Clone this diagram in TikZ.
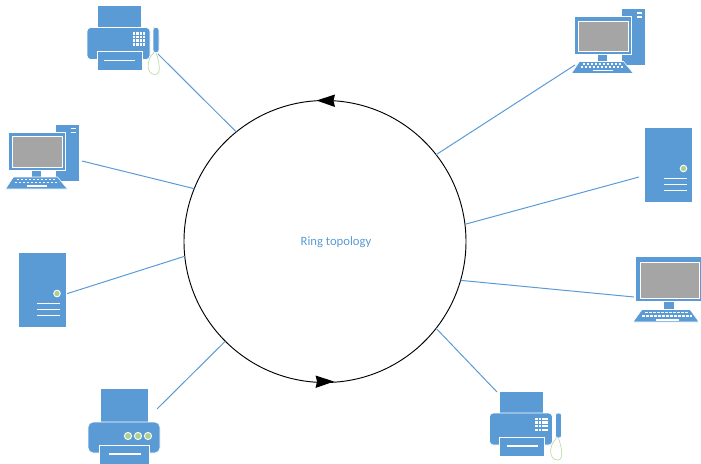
\documentclass[tikz,border=0pt]{standalone}
\usepackage{fontspec}
\setmainfont{Carlito}
\definecolor{icon}{HTML}{5B9BD5}
\definecolor{leaf}{HTML}{A9D18E}
\definecolor{screen}{HTML}{A5A5A5}
\tikzset{
  part/.style={fill=icon,draw=white,line width=0.4pt},
  link/.style={draw=icon,line width=0.75pt},
  slot/.style={draw=white,line width=1pt},
  cord/.style={draw=leaf!80,line width=0.5pt},
  faxicon/.pic={
    \draw[cord] (66,22) .. controls (74,24) and (74,45) .. (66,47);
    \draw[cord] (67,47) .. controls (58,56) and (60,69) .. (68,69) .. controls (75,69) and (72,56) .. (69,47);
    \path[part] (10,0) rectangle (54,22);
    \path[part,rounded corners=3pt] (0,54) -- (0,22) -- (63,22) -- (63,54) -- cycle;
    \path[part] (10,46) rectangle (55,65);
    \draw[slot] (17,55) -- (48,55);
    \foreach \a in {47,50.5,54,57} \foreach \b in {28,31.5,35,39} \fill[white] (\a-1.1,\b-1.1) rectangle (\a+1.1,\b+1.1);
    \path[part,rounded corners=2pt] (66,22) rectangle (72,47);
  },
  deskicon/.pic={
    \path[part] (56,124) rectangle (80,181);
    \draw[slot] (71,128.5) -- (76,128.5) (71,132.5) -- (76,132.5);
    \path[part] (32,169) rectangle (42,177);
    \path[part] (9,132) rectangle (66,170);
    \path[fill=screen,draw=white,line width=0.7pt] (12.7,136.5) rectangle (63,167);
    \path[part] (14,177) -- (58,177) -- (68,189) -- (6,189) -- cycle;
    \foreach \r/\a/\b in {179.5/17/56,182.5/15/59} \draw[white,line width=1.1pt,dash pattern=on 2pt off 1pt] (\a,\r) -- (\b,\r);
    \draw[white,line width=1.1pt] (27,186) -- (47,186);
  },
  servericon/.pic={
    \path[part] (18,253) rectangle (66,328);
    \draw[slot] (37,304) -- (60,304) (37,310) -- (60,310) (37,316) -- (60,316);
    \fill[leaf,draw=white,line width=0.7pt] (57,294) circle (3.3);
  }
}
\begin{document}
\begin{tikzpicture}[x=0.75pt,y=-0.75pt]
\useasboundingbox (0,0) rectangle (701,464);
\node[circle,draw=black,line width=0.7pt,inner sep=0pt,outer sep=0pt,minimum size=211.5pt] (ring) at (325,241.5) {};
\node[text=icon,font=\fontsize{9.5}{11}\selectfont,inner sep=0pt] (label) at (336,242) {Ring topology};
\fill[black] (316.5,100.5) -- (335,94.5) -- (333.5,100.5) -- (335,107) -- cycle;
\fill[black] (334,381.5) -- (315.5,375.5) -- (317,381.5) -- (315.5,388) -- cycle;

\coordinate (pfaxl) at (158,54);
\coordinate (pdeskl) at (82,161);
\coordinate (pservl) at (66,294);
\coordinate (pprintl) at (157,409);
\coordinate (pdeskr) at (575,65);
\coordinate (pservr) at (639,177);
\coordinate (plapr) at (634,297);
\coordinate (pfaxr) at (497,392);
\draw[link] (pfaxl) -- (ring.129.4);
\draw[link] (pdeskl) -- (ring.158.3);
\draw[link] (pservl) -- (ring.186.8);
\draw[link] (pprintl) -- (ring.225.1);
\draw[link] (pdeskr) -- (ring.38.3);
\draw[link] (pservr) -- (ring.7.9);
\draw[link] (plapr) -- (ring.-16.1);
\draw[link] (pfaxr) -- (ring.-38.9);

\pic (faxl) at (87,5.5) {faxicon};
\pic (faxr) at (489.5,391) {faxicon};
\pic (deskl) at (-0.5,0) {deskicon};
\pic (deskr) at (565.5,-115.5) {deskicon};
\pic (servl) at (0,-0.5) {servericon};
\pic (servr) at (626.5,-125.5) {servericon};

% printer
\path[part] (100,388.5) rectangle (148,422);
\path[part,rounded corners=4pt] (88,453) -- (88,422) -- (160,422) -- (160,453) -- cycle;
\path[part] (99,445) rectangle (149,465);
\draw[slot] (109,454) -- (141,454);
\foreach \a in {128,138,148} \fill[leaf,draw=white,line width=0.7pt] (\a,436) circle (3.6);

% laptop
\path[part] (663,301) rectangle (674,309);
\path[part] (635.5,256.5) rectangle (701,301);
\path[fill=screen,draw=white,line width=0.7pt] (640,262) rectangle (699,298);
\path[part] (642,309.5) -- (690,309.5) -- (699,322) -- (633,322) -- cycle;
\foreach \r/\a/\b in {312.5/645/688,316/642/692} \draw[white,line width=1.1pt,dash pattern=on 2pt off 1pt] (\a,\r) -- (\b,\r);
\draw[white,line width=1.1pt] (656,320) -- (679,320);
\end{tikzpicture}
\end{document}
